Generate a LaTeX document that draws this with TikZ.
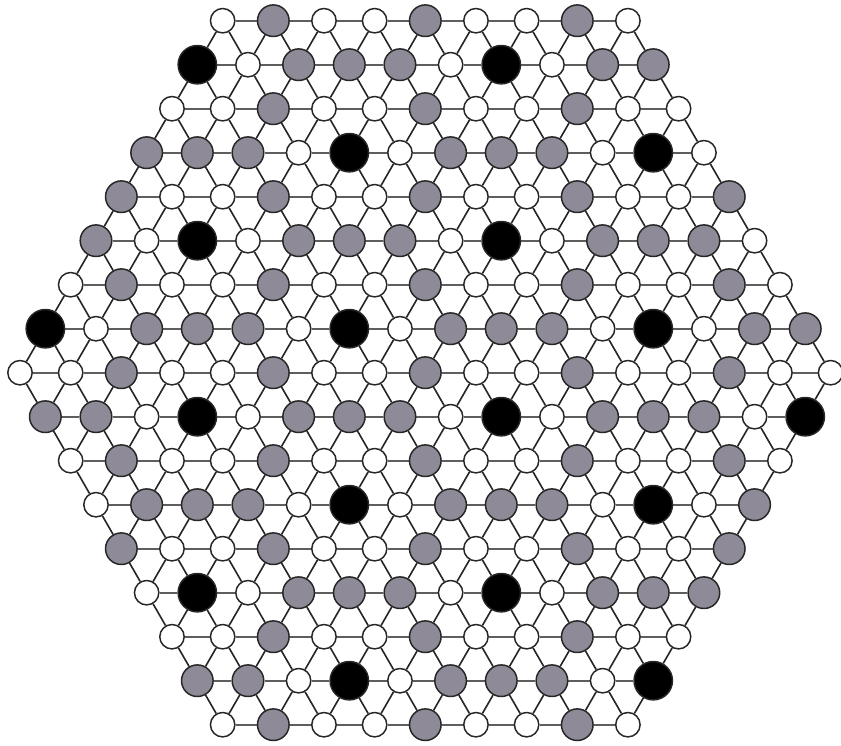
\documentclass[tikz,border=0pt]{standalone}
\usepackage{tikz}
\usepackage{xcolor}
\usetikzlibrary{backgrounds}
\definecolor{sitegray}{HTML}{8E8A98}
\definecolor{bondblack}{HTML}{262626}
\definecolor{bondgray}{HTML}{5E5E5E}
\tikzset{
  site/.style ={circle, draw=black!85, inner sep=0pt, line width=2.1pt},
  site0/.style={site, fill=white,    minimum size=1.22cm},
  site1/.style={site, fill=sitegray, minimum size=1.58cm},
  site2/.style={site, fill=black,    minimum size=1.92cm},
  bond/.style ={draw=bondblack, line width=2.3pt},
  hbond/.style={bond, draw=bondgray},
}

\begin{document}
\begin{tikzpicture}[x=0.05cm, y=-0.05cm]
\useasboundingbox (0,0) rectangle (841,745);

% ---------------------------------------------------------------- sites
% row r holds k = |r-8|, |r-8|+2, ..., 32-|r-8|
\foreach \r in {0,...,16}{
  \pgfmathtruncatemacro\kmin{abs(\r-8)}
  \pgfmathtruncatemacro\kmax{32-\kmin}
  \pgfmathtruncatemacro\knext{\kmin+2}
  \foreach \k in {\kmin,\knext,...,\kmax}{
    \pgfmathtruncatemacro\m{mod(\k+3*(\r-1),12)}
    \pgfmathtruncatemacro\kind{ifthenelse(mod(\r,2)==0,
        ifthenelse(mod(\k,6)==4,1,0),
        ifthenelse(\m==7,2,ifthenelse(\m==5||\m==9,0,1)))}
    \node[site\kind] (n-\r-\k) at ({20+25.33*\k},{20.7+44*\r}) {};
  }
}

% ---------------------------------------------------------------- bonds
\begin{scope}[on background layer]
\foreach \r in {0,...,16}{
  \pgfmathtruncatemacro\kmin{abs(\r-8)}
  \pgfmathtruncatemacro\kmax{32-\kmin}
  \pgfmathtruncatemacro\knext{\kmin+2}
  \pgfmathtruncatemacro\rr{\r+1}
  \pgfmathtruncatemacro\lmin{abs(\rr-8)}
  \pgfmathtruncatemacro\lmax{32-\lmin}
  \foreach \k in {\kmin,\knext,...,\kmax}{
    \pgfmathtruncatemacro\kr{\k+2}
    \pgfmathtruncatemacro\kp{\k+1}
    \pgfmathtruncatemacro\km{\k-1}
    \ifnum\k<\kmax \draw[hbond] (n-\r-\k) -- (n-\r-\kr); \fi
    \ifnum\r<16
      \ifnum\kp>\numexpr\lmin-1\relax \ifnum\kp<\numexpr\lmax+1\relax
        \draw[bond] (n-\r-\k) -- (n-\rr-\kp); \fi\fi
      \ifnum\km>\numexpr\lmin-1\relax \ifnum\km<\numexpr\lmax+1\relax
        \draw[bond] (n-\r-\k) -- (n-\rr-\km); \fi\fi
    \fi
  }
}
\end{scope}

\end{tikzpicture}
\end{document}
